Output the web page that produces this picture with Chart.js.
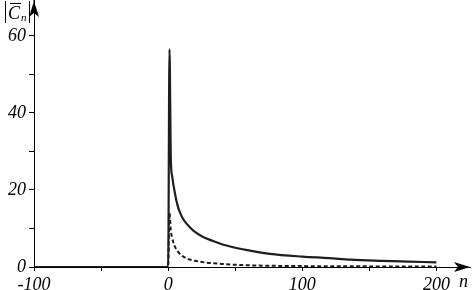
<!DOCTYPE html>
<html>
<head>
<meta charset="utf-8">
<script src="https://cdn.jsdelivr.net/npm/chart.js@4/dist/chart.umd.min.js"></script>
<style>
  body { margin: 0; background: #fff; }
  canvas { display: block; }
</style>
</head>
<body>
<canvas id="chart" width="473" height="290"></canvas>
<script>
// |C_n| spectrum
const solidN = [-100, 0, 1, 2, 3, 5, 7, 9, 12, 16, 20, 26, 33, 40, 50, 60, 76, 100, 120, 136, 160, 180, 200];
const solidC = [0, 0, 56.5, 28, 23.5, 19.2, 16, 14, 12, 10.4, 9.1, 7.8, 6.8, 5.9, 5.0, 4.3, 3.4, 2.7, 2.3, 1.9, 1.6, 1.4, 1.2];

const dashN = [-100, 0, 1, 2, 3, 5, 7, 10, 14, 20, 27, 40, 55, 80, 120, 160, 200];
const dashC = [0, 0, 14, 9.5, 7.5, 5.3, 4.1, 3.0, 2.2, 1.6, 1.2, 0.8, 0.5, 0.3, 0.2, 0.15, 0.1];

const xTicks = [-100, -50, 0, 50, 100, 150, 200];
const xLabels = ["-100", "", "0", "", "100", "", "200"];
const yTicks = [0, 10, 20, 30, 40, 50, 60];
const yLabels = ["0", "", "20", "", "40", "", "60"];

const toPoints = (xs, ys) => xs.map((x, i) => ({ x: x, y: ys[i] }));

const serif = { family: "'Liberation Serif', 'Times New Roman', serif", style: "italic", size: 18 };

// axis arrows and axis names
const decor = {
  id: "decor",
  afterDraw(chart) {
    const ctx = chart.ctx;
    const a = chart.chartArea;
    ctx.save();
    ctx.fillStyle = "#000";
    ctx.strokeStyle = "#000";
    ctx.lineWidth = 1;
    // y axis up to the top edge
    ctx.beginPath();
    ctx.moveTo(a.left, a.top);
    ctx.lineTo(a.left, 2);
    ctx.stroke();
    // up arrow
    ctx.beginPath();
    ctx.moveTo(a.left, 1);
    ctx.lineTo(a.left + 5, 17);
    ctx.lineTo(a.left, 13);
    ctx.lineTo(a.left - 5, 17);
    ctx.closePath();
    ctx.fill();
    // right arrow
    ctx.beginPath();
    ctx.moveTo(a.right, a.bottom);
    ctx.lineTo(a.right - 16, a.bottom - 5);
    ctx.lineTo(a.right - 12, a.bottom);
    ctx.lineTo(a.right - 16, a.bottom + 5);
    ctx.closePath();
    ctx.fill();

    ctx.font = "italic 18px 'Liberation Serif', serif";
    ctx.textBaseline = "alphabetic";
    ctx.fillText("n", 459, 287);

    // |C_n| with bar
    ctx.beginPath();
    ctx.moveTo(5.5, 1); ctx.lineTo(5.5, 23);
    ctx.moveTo(29.5, 1); ctx.lineTo(29.5, 23);
    ctx.moveTo(10, 3.5); ctx.lineTo(21, 3.5);
    ctx.stroke();
    ctx.fillText("C", 8, 19);
    ctx.font = "italic 11px 'Liberation Serif', serif";
    ctx.fillText("n", 21, 21);
    ctx.restore();
  }
};

const ctx = document.getElementById("chart").getContext("2d");
new Chart(ctx, {
  type: "line",
  data: {
    datasets: [
      {
        label: "solid",
        data: toPoints(solidN, solidC),
        borderColor: "#1e1e1e",
        borderWidth: 2.2,
        pointRadius: 0,
        cubicInterpolationMode: "monotone"
      },
      {
        label: "dashed",
        data: toPoints(dashN, dashC),
        borderColor: "#1e1e1e",
        borderWidth: 2,
        borderDash: [4, 2.5],
        pointRadius: 0,
        cubicInterpolationMode: "monotone"
      }
    ]
  },
  options: {
    responsive: false,
    animation: false,
    layout: { padding: { top: 0, right: 3, left: 0, bottom: 0 } },
    plugins: { legend: { display: false }, tooltip: { enabled: false } },
    scales: {
      x: {
        type: "linear",
        min: -100,
        max: 225,
        afterBuildTicks: s => { s.ticks = xTicks.map(v => ({ value: v })); },
        afterFit: s => { s.height = 23; s.paddingLeft = 0; s.paddingRight = 0; },
        ticks: {
          color: "#000",
          font: serif,
          padding: 3,
          maxRotation: 0,
          autoSkip: false,
          callback: (v) => xLabels[xTicks.indexOf(v)]
        },
        grid: { drawOnChartArea: false, color: "#000", tickLength: 4 },
        border: { color: "#000", width: 1 }
      },
      y: {
        min: 0,
        max: 69.3,
        afterBuildTicks: s => { s.ticks = yTicks.map(v => ({ value: v })); },
        afterFit: s => { s.width = 34; s.paddingTop = 0; s.paddingBottom = 0; },
        ticks: {
          color: "#000",
          font: serif,
          padding: 3,
          autoSkip: false,
          callback: (v) => yLabels[yTicks.indexOf(v)]
        },
        grid: { drawOnChartArea: false, color: "#000", tickLength: 5 },
        border: { color: "#000", width: 1 }
      }
    }
  },
  plugins: [decor]
});
</script>
</body>
</html>
